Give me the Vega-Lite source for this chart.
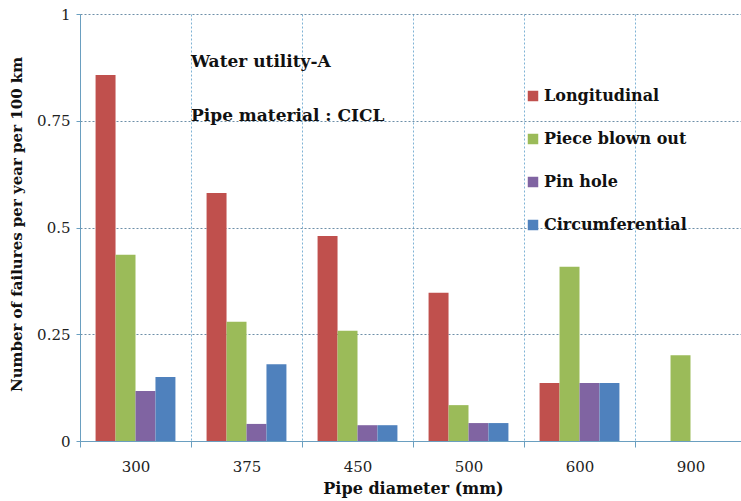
{
  "$schema": "https://vega.github.io/schema/vega-lite/v6.json",
  "autosize": {"type": "none"},
  "width": 666,
  "height": 427,
  "padding": {"left": 80, "top": 14, "right": 0, "bottom": 60},
  "background": "white",
  "config": {
    "font": "DejaVu Serif",
    "view": {"stroke": null}
  },
  "datasets": {
    "bars": [
      {"d": "300", "type": "Longitudinal", "v": 0.857},
      {"d": "300", "type": "Piece blown out", "v": 0.436},
      {"d": "300", "type": "Pin hole", "v": 0.117},
      {"d": "300", "type": "Circumferential", "v": 0.15},
      {"d": "375", "type": "Longitudinal", "v": 0.581},
      {"d": "375", "type": "Piece blown out", "v": 0.279},
      {"d": "375", "type": "Pin hole", "v": 0.04},
      {"d": "375", "type": "Circumferential", "v": 0.18},
      {"d": "450", "type": "Longitudinal", "v": 0.48},
      {"d": "450", "type": "Piece blown out", "v": 0.258},
      {"d": "450", "type": "Pin hole", "v": 0.037},
      {"d": "450", "type": "Circumferential", "v": 0.037},
      {"d": "500", "type": "Longitudinal", "v": 0.347},
      {"d": "500", "type": "Piece blown out", "v": 0.084},
      {"d": "500", "type": "Pin hole", "v": 0.042},
      {"d": "500", "type": "Circumferential", "v": 0.042},
      {"d": "600", "type": "Longitudinal", "v": 0.136},
      {"d": "600", "type": "Piece blown out", "v": 0.408},
      {"d": "600", "type": "Pin hole", "v": 0.136},
      {"d": "600", "type": "Circumferential", "v": 0.136},
      {"d": "900", "type": "Piece blown out", "v": 0.201}
    ],
    "notes": [
      {"d": "375", "y": 0.888, "label": "Water utility-A"},
      {"d": "375", "y": 0.762, "label": "Pipe material : CICL"}
    ]
  },
  "layer": [
    {
      "data": {"name": "bars"},
      "mark": {"type": "bar"},
      "encoding": {
        "x": {
          "field": "d", "type": "nominal",
          "sort": ["300", "375", "450", "500", "600", "900"],
          "scale": {"domain": ["300", "375", "450", "500", "600", "900"], "paddingInner": 0, "paddingOuter": 0},
          "axis": {
            "title": "Pipe diameter (mm)",
            "titleFont": "DejaVu Serif", "titleFontSize": 16, "titleFontWeight": "bold", "titleColor": "#111",
            "titlePadding": 6,
            "labelFont": "DejaVu Serif",
            "labelAngle": 0, "labelFontSize": 15, "labelColor": "#222", "labelPadding": 12,
            "tickBand": "extent", "ticks": true, "tickSize": 6, "tickColor": "#6a9fc0",
            "domainColor": "#6a9fc0",
            "grid": true, "gridColor": "#7fb3d5", "gridDash": [2, 2], "gridWidth": 1
          }
        },
        "xOffset": {
          "field": "type", "type": "nominal",
          "sort": ["Longitudinal", "Piece blown out", "Pin hole", "Circumferential"],
          "scale": {"domain": ["Longitudinal", "Piece blown out", "Pin hole", "Circumferential"], "paddingInner": 0, "paddingOuter": 0.78}
        },
        "y": {
          "field": "v", "type": "quantitative",
          "scale": {"domain": [0, 1], "nice": false},
          "axis": {
            "title": "Number of failures per year per 100 km",
            "titleFont": "DejaVu Serif", "titleFontSize": 15, "titleFontWeight": "bold", "titleColor": "#111",
            "titlePadding": 12, "titleY": 210,
            "values": [0, 0.25, 0.5, 0.75, 1], "format": ".2~f",
            "labelFont": "DejaVu Serif",
            "labelFontSize": 15, "labelColor": "#222", "labelPadding": 6,
            "tickSize": 4, "tickColor": "#6a9fc0", "domainColor": "#6a9fc0",
            "grid": true, "gridColor": "#6d8fa8", "gridDash": [2, 2], "gridWidth": 1
          }
        },
        "color": {
          "field": "type", "type": "nominal",
          "sort": ["Longitudinal", "Piece blown out", "Pin hole", "Circumferential"],
          "scale": {
            "domain": ["Longitudinal", "Piece blown out", "Pin hole", "Circumferential"],
            "range": ["#C0504D", "#9BBB59", "#8064A2", "#4F81BD"]
          },
          "legend": {
            "title": null, "orient": "none", "legendX": 445, "legendY": 74,
            "symbolType": "square", "symbolSize": 110, "symbolStrokeWidth": 0,
            "labelFont": "DejaVu Serif", "labelFontSize": 16, "labelFontWeight": "bold", "labelColor": "#111",
            "rowPadding": 27, "labelOffset": 3
          }
        }
      }
    },
    {
      "data": {"name": "notes"},
      "mark": {"type": "text", "align": "left", "baseline": "middle", "font": "DejaVu Serif", "fontSize": 17, "fontWeight": "bold", "color": "#111"},
      "encoding": {
        "x": {"field": "d", "type": "nominal", "bandPosition": 0},
        "y": {"field": "y", "type": "quantitative"},
        "text": {"field": "label"}
      }
    }
  ]
}
